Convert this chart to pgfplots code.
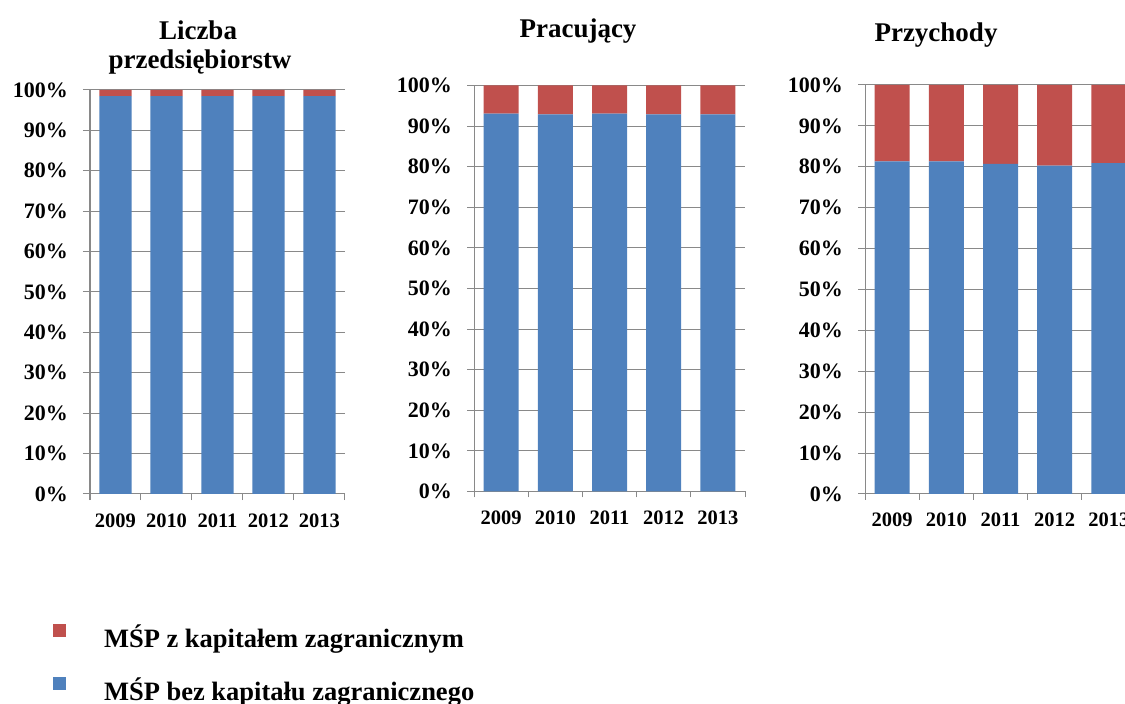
\documentclass[border=0pt]{standalone}
\usepackage{fontspec}
\setmainfont{Liberation Serif}
\usepackage{pgfplots}
\pgfplotsset{compat=1.18}
\definecolor{cblue}{HTML}{4F81BD}
\definecolor{cred}{HTML}{C0504D}
\definecolor{cgray}{HTML}{898989}
\pgfplotsset{
  panel/.style={
    scale only axis,
    anchor=south west,
    ybar stacked,
    ymin=0, ymax=100,
    xmin=-0.5, xmax=4.5,
    axis x line*=bottom, axis y line*=left,
    axis line style={cgray, line width=1pt},
    ytick={0,10,...,100},
    yticklabels={0\%,10\%,20\%,30\%,40\%,50\%,60\%,70\%,80\%,90\%,100\%},
    ymajorgrids, major grid style={cgray, line width=1pt},
    xtick={0,1,2,3,4},
    xticklabels={2009,2010,2011,2012,2013},
    minor xtick={-0.5,0.5,1.5,2.5,3.5,4.5},
    tick align=outside,
    major tick length=7pt, minor tick length=6pt,
    major x tick style={draw=none},
    minor x tick style={cgray, line width=1pt},
    ytick style={cgray, line width=1pt},
    yticklabel style={font=\bfseries\fontsize{22}{22}\selectfont, anchor=east, inner sep=0pt, xshift=-15pt},
    xticklabel style={font=\bfseries\fontsize{20.5}{20.5}\selectfont, anchor=base, inner sep=0pt, yshift=-26pt},
  },
}
\begin{document}
\begin{tikzpicture}
\useasboundingbox (0,0) rectangle (1125pt,704pt);
% Panel 1
\begin{axis}[panel, at={(90pt,210pt)}, width=255pt, height=404pt,
  bar width=32pt,
  legend style={draw=none, fill=none, at={(rel axis cs:-0.1451,-0.3218)}, anchor=north west,
    inner sep=0pt, outer sep=0pt, column sep=38pt, row sep=15.3pt,
    font=\bfseries\fontsize{26.5}{26.5}\selectfont,
    nodes={inner sep=0pt, text height=15pt, text depth=15pt}},
  legend cell align=left, reverse legend]
\addplot[fill=cblue, draw=none, legend image code/.code={\fill[cblue] (0pt,10.3pt) rectangle (13pt,23pt);}]
  coordinates {(0,98.5) (1,98.5) (2,98.5) (3,98.5) (4,98.5)};
\addlegendentry{MŚP bez kapitału zagranicznego}
\addplot[fill=cred, draw=none, legend image code/.code={\fill[cred] (0pt,10.3pt) rectangle (13pt,23pt);}]
  coordinates {(0,1.5) (1,1.5) (2,1.5) (3,1.5) (4,1.5)};
\addlegendentry{MŚP z kapitałem zagranicznym}
\end{axis}
% Panel 2
\begin{axis}[panel, at={(474pt,212.5pt)}, width=271pt, height=406pt,
  bar width=35pt]
\addplot[fill=cblue, draw=none]
  coordinates {(0,93.1) (1,92.9) (2,93.1) (3,92.9) (4,92.9)};
\addplot[fill=cred, draw=none]
  coordinates {(0,6.9) (1,7.1) (2,6.9) (3,7.1) (4,7.1)};
\end{axis}
% Panel 3
\begin{axis}[panel, at={(865pt,210pt)}, width=271pt, height=409pt,
  bar width=35pt]
\addplot[fill=cblue, draw=none]
  coordinates {(0,81.3) (1,81.3) (2,80.7) (3,80.3) (4,80.9)};
\addplot[fill=cred, draw=none]
  coordinates {(0,18.7) (1,18.7) (2,19.3) (3,19.7) (4,19.1)};
\end{axis}
% Titles
\begin{scope}[every node/.style={anchor=base, inner sep=0pt, font=\bfseries\fontsize{27}{27}\selectfont}]
\node at (198pt,664pt) {Liczba};
\node at (200pt,635.7pt) {przedsiębiorstw};
\node at (578pt,666.7pt) {Pracujący};
\node at (936pt,662.3pt) {Przychody};
\end{scope}
\end{tikzpicture}
\end{document}
